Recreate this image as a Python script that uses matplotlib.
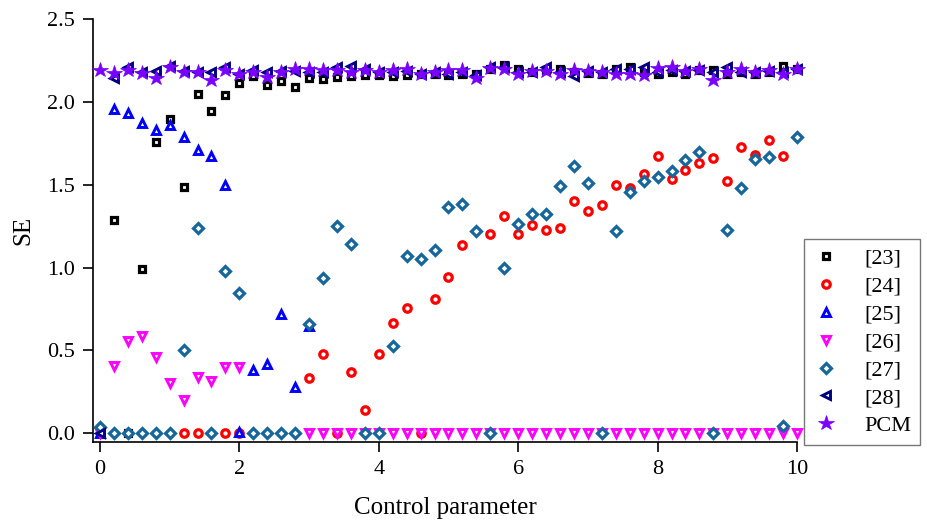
import numpy as np
import matplotlib
matplotlib.use("Agg")
import matplotlib.pyplot as plt

nan = np.nan
x = np.round(np.arange(0, 51) * 0.2, 1)

s23 = [0.0, 1.284, 0.0, 0.99, 1.76, 1.897, 1.486, 2.05, 1.947, 2.04,
       2.115, 2.155, 2.10, 2.125, 2.09, 2.145, 2.14, 2.15, 2.157, 2.16,
       2.16, 2.157, 2.16, 2.165, 2.165, 2.16, 2.165, 2.17, 2.2, 2.225,
       2.195, 2.18, 2.19, 2.195, 2.18, 2.175, 2.165, 2.2, 2.21, 2.18,
       2.165, 2.18, 2.165, 2.19, 2.19, 2.17, 2.18, 2.165, 2.18, 2.217, 2.2]

s24 = [nan, nan, nan, nan, nan, nan, 0.0, 0.0, nan, 0.0,
       0.0, nan, nan, nan, nan, 0.335, 0.479, 0.0, 0.369, 0.138,
       0.479, 0.663, 0.753, 0.0, 0.809, 0.943, 1.138, nan, 1.204, 1.31,
       1.20, 1.256, 1.226, 1.24, 1.404, 1.34, 1.38, 1.50, 1.48, 1.564,
       1.675, 1.537, 1.59, 1.63, 1.66, 1.52, 1.73, 1.68, 1.767, 1.67, nan]

s25 = [0.0, 1.955, 1.93, 1.871, 1.831, 1.861, 1.785, 1.707, 1.671, 1.50,
       0.008, 0.379, 0.42, 0.72, 0.278, 0.649] + [nan] * 35

s26 = [0.0, 0.403, 0.559, 0.589, 0.459, 0.302, 0.2025, 0.339, 0.315, 0.399,
       0.399, nan, nan, nan, nan] + [0.0] * 36

s27 = [0.04, 0.0, 0.0, 0.0, 0.0, 0.0, 0.503, 1.236, 0.0, 0.98,
       0.849, 0.0, 0.0, 0.0, 0.0, 0.659, 0.936, 1.25, 1.144, 0.0,
       0.0, 0.527, 1.07, 1.05, 1.106, 1.366, 1.386, 1.22, 0.0, 1.0,
       1.264, 1.324, 1.324, 1.494, 1.615, 1.508, 0.0, 1.218, 1.454, 1.524,
       1.544, 1.585, 1.651, 1.697, 0.0, 1.226, 1.478, 1.655, 1.667, 0.042, 1.787]

s28 = [0.0, 2.145, 2.21, 2.18, 2.187, 2.217, 2.187, 2.18, 2.18, 2.21,
       2.17, 2.19, 2.18, 2.185, 2.185, 2.18, 2.18, 2.21, 2.217, 2.2,
       2.18, 2.18, 2.185, 2.17, 2.18, 2.17, 2.18, 2.16, 2.21, 2.21,
       2.18, 2.18, 2.21, 2.18, 2.157, 2.185, 2.18, 2.2, 2.2, 2.21,
       2.18, 2.19, 2.185, 2.19, 2.18, 2.21, 2.18, 2.18, 2.185, 2.18, 2.2]

pcm = [2.19, 2.172, 2.19, 2.172, 2.145, 2.207, 2.18, 2.18, 2.13, 2.19,
       2.165, 2.18, 2.15, 2.18, 2.198, 2.198, 2.19, 2.19, 2.18, 2.19,
       2.18, 2.19, 2.198, 2.17, 2.18, 2.19, 2.19, 2.145, 2.203, 2.2,
       2.17, 2.185, 2.185, 2.17, 2.19, 2.185, 2.18, 2.165, 2.17, 2.16,
       2.203, 2.21, 2.185, 2.2, 2.13, 2.18, 2.198, 2.18, 2.19, 2.165, 2.198]

labels = ["[23]", "[24]", "[25]", "[26]", "[27]", "[28]", "PCM"]
xticks = [0, 2, 4, 6, 8, 10]
yticks = [0.0, 0.5, 1.0, 1.5, 2.0, 2.5]

plt.rcParams['font.family'] = ['Liberation Serif', 'DejaVu Serif']

fig = plt.figure(figsize=(9.28, 5.23), dpi=100)
ax = fig.add_axes([0.1005, 0.1558, 0.7583, 0.808])

styles = [
    dict(marker='s', color='black', ms=4.8, mew=2.3, mfc='white'),
    dict(marker='o', color='#ff0000', ms=5.4, mew=2.3, mfc='white'),
    dict(marker='^', color='#0000ff', ms=6.4, mew=2.1, mfc='white'),
    dict(marker='v', color='#ff00ff', ms=6.4, mew=2.1, mfc='white'),
    dict(marker='D', color='#17679c', ms=5.0, mew=2.3, mfc='white'),
    dict(marker='<', color='#000080', ms=6.4, mew=2.1, mfc='white'),
    dict(marker='*', color='#7a00ff', ms=11.5, mew=0.5, mfc='#7a00ff'),
]
series = [s23, s24, s25, s26, s27, s28, pcm]

for data, lab, st in zip(series, labels, styles):
    ax.plot(x, data, linestyle='none', marker=st['marker'], markersize=st['ms'],
            markeredgewidth=st['mew'], markeredgecolor=st['color'],
            markerfacecolor=st['mfc'], label=lab, clip_on=False, zorder=3)

ax.set_xlim(-0.096, 10)
ax.set_ylim(-0.05, 2.5)
ax.set_xticks(xticks)
ax.set_xticklabels([str(t) for t in xticks])
ax.set_yticks(yticks)
ax.set_yticklabels([f"{t:.1f}" for t in yticks])
ax.spines['top'].set_visible(False)
ax.spines['right'].set_visible(False)
for sp in ['left', 'bottom']:
    ax.spines[sp].set_linewidth(1.2)
ax.tick_params(direction='out', length=7, width=1.2, labelsize=16, pad=6)
ax.set_xlabel("Control parameter", fontsize=18, labelpad=13)
ax.set_ylabel("SE", fontsize=18, labelpad=9)

leg = fig.legend(loc='lower left', bbox_to_anchor=(804 / 928, 1 - 445 / 523),
                 fontsize=16, numpoints=1, frameon=True, fancybox=False,
                 borderaxespad=0, handlelength=1.2, handletextpad=1.1,
                 labelspacing=0.33, borderpad=0.4)
leg.get_frame().set_edgecolor('#555555')
leg.get_frame().set_linewidth(1.0)

fig.savefig("out.png", dpi=100)
